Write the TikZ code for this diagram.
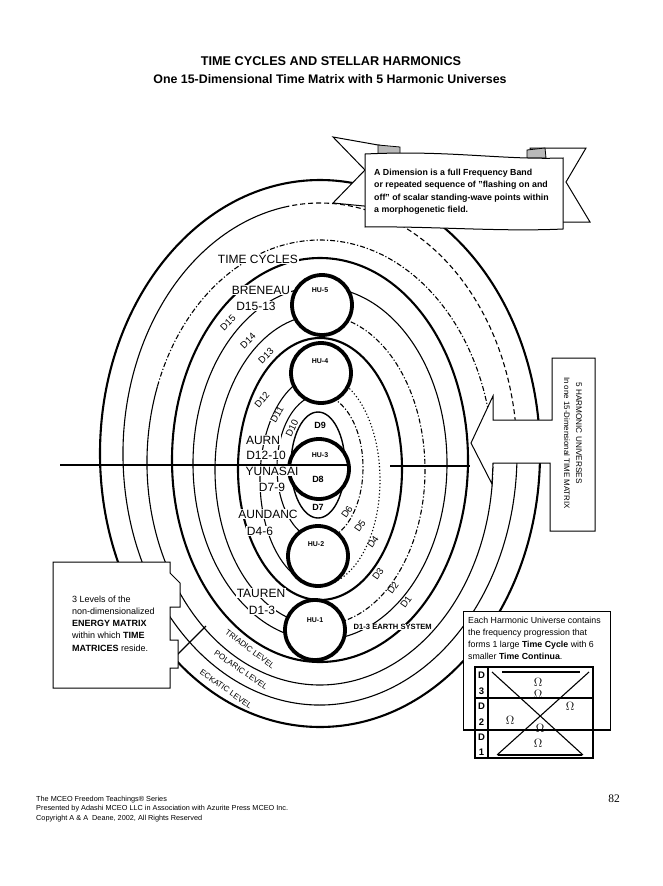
\documentclass[tikz,border=0pt]{standalone}
\usepackage{fontspec}
\setmainfont{Liberation Sans}
\newfontfamily\pagenumfont{Liberation Serif}
\begin{document}
\begin{tikzpicture}[x=1pt,y=-1pt,
  thk/.style={line width=2.1pt},
  thn/.style={line width=1.1pt},
  dashA/.style={dash pattern=on 5pt off 3pt},
  dashdot/.style={dash pattern=on 5pt off 2pt on 1.2pt off 2pt},
  dotty/.style={dash pattern=on 1.2pt off 2.2pt},
  hu/.style={circle, draw, line width=3.8pt, fill=white, minimum size=60pt, inner sep=0pt},
  lbl/.style={fill=white, inner sep=0.6pt, font=\fontsize{12}{12}\selectfont},
  dlab/.style={fill=white, inner sep=0pt, font=\fontsize{9.5}{9.5}\selectfont},
  hulab/.style={font=\bfseries\fontsize{7}{7}\selectfont, inner sep=0pt},
  dinner/.style={font=\bfseries\fontsize{9}{9}\selectfont, inner sep=0pt},
  band/.style={font=\fontsize{8}{8}\selectfont, inner sep=0pt},
  boxshape/.style={draw, line width=1pt, fill=white},
  omega/.style={font=\fontsize{12}{12}\selectfont, inner sep=0pt},
]
\useasboundingbox (0,0) rectangle (662,886);
\fill[white] (0,0) rectangle (662,886);

% ---------- ellipses ----------
\draw[thk] (320,453.5) ellipse [x radius=220pt, y radius=273.5pt];
\begin{scope}[shift={(320,454)}]
  \draw[thn] (100:197pt and 251pt) arc[start angle=100, end angle=360, x radius=197pt, y radius=251pt];
  \draw[thn,dashA] (0:197pt and 251pt) arc[start angle=0, end angle=100, x radius=197pt, y radius=251pt];
\end{scope}
\begin{scope}[shift={(320,462.5)}]
  \draw[thn] (160:173pt and 222.5pt) arc[start angle=160, end angle=355, x radius=173pt, y radius=222.5pt];
  \draw[thn,dashdot] (-5:173pt and 222.5pt) arc[start angle=-5, end angle=160, x radius=173pt, y radius=222.5pt];
\end{scope}
\draw[thk] (320,460) ellipse [x radius=148pt, y radius=202pt];
\draw[thn] (320,463.5) ellipse [x radius=127pt, y radius=176.5pt];
\begin{scope}[shift={(320,470)}]
  \draw[thn] (80:105pt and 155pt) arc[start angle=80, end angle=280, x radius=105pt, y radius=155pt];
  \draw[thn,dashdot] (-80:105pt and 155pt) arc[start angle=-80, end angle=80, x radius=105pt, y radius=155pt];
\end{scope}
\draw[thk] (320,469) ellipse [x radius=82pt, y radius=131pt];
\begin{scope}[shift={(320,480)}]
  \draw[thn] (85:60pt and 105pt) arc[start angle=85, end angle=275, x radius=60pt, y radius=105pt];
  \draw[thn,dotty] (-85:60pt and 105pt) arc[start angle=-85, end angle=85, x radius=60pt, y radius=105pt];
\end{scope}
\begin{scope}[shift={(320,467.5)}]
  \draw[thn] (85:43pt and 72.5pt) arc[start angle=85, end angle=275, x radius=43pt, y radius=72.5pt];
  \draw[thn,dashdot] (-85:43pt and 72.5pt) arc[start angle=-85, end angle=85, x radius=43pt, y radius=72.5pt];
\end{scope}
\draw[line width=1.4pt] (318,465) ellipse [x radius=27pt, y radius=53pt];

% band cap
\coordinate (capA) at (206,626);
\coordinate (capB) at (176,656);
\draw[thn] (capA) -- (capB);

% ---------- left labels ----------
\node[lbl] (tc) at (258,259) {TIME CYCLES};
\node[lbl] (bren) at (261,290) {BRENEAU};
\node[lbl] (d1513) at (256,306) {D15-13};
\node[lbl] (aurn) at (263,440) {AURN};
\node[lbl] (d1210) at (266,455) {D12-10};
\node[lbl] (d79) at (272,487) {D7-9};
\node[lbl] (aund) at (268,514) {AUNDANC};
\node[lbl] (d46) at (260,531) {D4-6};
\node[lbl] (taur) at (261,593) {TAUREN};
\node[lbl] (d13) at (262,610) {D1-3};

\node[dlab,rotate=45] (lD15) at (228,323) {D15};
\node[dlab,rotate=45] (lD14) at (248,341) {D14};
\node[dlab,rotate=45] (lD13) at (266,356) {D13};
\node[dlab,rotate=50] (lD12) at (262,400) {D12};
\node[dlab,rotate=60] (lD11) at (277,415) {D11};
\node[dlab,rotate=64] (lD10) at (292,428) {D10};
\node[dlab,rotate=55] (lD6) at (347,512) {D6};
\node[dlab,rotate=55] (lD5) at (360,526) {D5};
\node[dlab,rotate=55] (lD4) at (373,542) {D4};
\node[dlab,rotate=55] (lD3) at (378,574) {D3};
\node[dlab,rotate=55] (lD2) at (393,588) {D2};
\node[dlab,rotate=55] (lD1) at (406,602) {D1};

% ---------- HU circles ----------
\node[hu] (hu5) at (322,305) {};
\node[hu] (hu4) at (321,373) {};
\node[hu] (hu3) at (319,469) {};
\node[hu] (hu2) at (318,556) {};
\node[hu] (hu1) at (315,630) {};
\node[hulab] (thu5) at (320,290) {HU-5};
\node[hulab] (thu4) at (320,361) {HU-4};
\node[hulab] (thu3) at (320,455) {HU-3};
\node[hulab] (thu2) at (316,544) {HU-2};
\node[hulab] (thu1) at (315,620) {HU-1};
\node[dinner] (td9) at (320,425) {D9};
\node[dinner] (td8) at (318,479) {D8};
\node[dinner] (td7) at (318,507) {D7};

\node[lbl] (yun) at (272,471) {YUNASAI};

% horizontal axis
\coordinate (hlA) at (60,465);
\coordinate (hlB) at (348,465);
\coordinate (hlC) at (390,466);
\coordinate (hlD) at (470,466);
\draw[thn] (hlA) -- (hlB);
\draw[thn] (hlC) -- (hlD);

\node[font=\bfseries\fontsize{7.6}{7.6}\selectfont, anchor=west, fill=white, inner sep=0.5pt] (earth) at (353,627) {D1-3 EARTH SYSTEM};

\node[band,rotate=-37] (tri) at (250,649) {TRIADIC LEVEL};
\node[band,rotate=-34] (pol) at (241,670) {POLARIC LEVEL};
\node[band,rotate=-35] (eck) at (226,689) {ECKATIC LEVEL};

% ---------- banner ----------
\draw[boxshape] (333,137) -- (395,148) -- (395,209) -- (333,203) -- (365,170) -- cycle;
\draw[boxshape] (530,148) -- (586,148) -- (566,182) -- (590,222) -- (530,222) -- cycle;
\draw[line width=0.8pt, fill=gray!55] (378,145) -- (400,147) -- (400,156) -- (378,155) -- cycle;
\draw[line width=0.8pt, fill=gray!55] (527,150) -- (545,148) -- (546,158) -- (527,158) -- cycle;
\draw[boxshape] (365,154) .. controls (450,150) and (500,160) .. (563,158) -- (563,229) .. controls (500,232) and (430,226) .. (365,227) -- cycle;
\node[anchor=north west, align=left, inner sep=0pt, font=\bfseries\fontsize{8.8}{12.4}\selectfont] (bantext) at (374,169)
  {A Dimension is a full Frequency Band\\or repeated sequence of "flashing on and\\off" of scalar standing-wave points within\\a morphogenetic field.};

% ---------- 5 HU callout ----------
\draw[boxshape] (552,358) -- (595,358) -- (595,531) -- (550,531) -- (550,463) -- (493,463) -- (492,484) -- (471,443) -- (493,396) -- (493,420) -- (552,420) -- cycle;
\node[rotate=-90, inner sep=0pt, font=\fontsize{8.2}{8.2}\selectfont] (hu5a) at (579,433) {5 HARMONIC UNIVERSES};
\node[rotate=-90, inner sep=0pt, font=\fontsize{7.9}{7.9}\selectfont] (hu5b) at (567,443) {In one 15-Dimensional TIME MATRIX};

% ---------- left box ----------
\draw[boxshape] (53,562) -- (170,562) -- (170,573) -- (180,583) -- (180,607) -- (170,607) -- (170,640) -- (178,640) -- (178,668) -- (170,668) -- (170,688) -- (53,688) -- cycle;
\node[anchor=north west, align=left, inner sep=0pt, font=\fontsize{9}{12.2}\selectfont] (lefttext) at (72,595.5)
  {3 Levels of the\\non-dimensionalized\\\textbf{ENERGY MATRIX}\\within which \textbf{TIME}\\\textbf{MATRICES} reside.};

% ---------- bottom right box ----------
\draw[boxshape] (463,611) rectangle (610,730);
\node[anchor=north west, align=left, inner sep=0pt, font=\fontsize{8.8}{12.3}\selectfont] (rtext) at (468,616.5)
  {Each Harmonic Universe contains\\the frequency progression that\\forms 1 large \textbf{Time Cycle} with 6\\smaller \textbf{Time Continua}.};
\draw[thn, fill=white] (475,667) rectangle (593,758);
\draw[thn] (488,667) -- (488,758);
\draw[thn] (475,698) -- (593,698);
\draw[thn] (463,730) -- (610,730);
\draw[thn] (502,672) -- (580,672);
\draw[thn] (498,755) -- (582,755);
\draw[thn] (492,672) -- (583,755);
\draw[thn] (589,672) -- (497,755);
\foreach \t/\yy in {D/675,3/691,D/706,2/722,D/737,1/752}
  \node[font=\bfseries\fontsize{9.5}{9.5}\selectfont, inner sep=0pt] at (481.5,\yy) {\t};
\node[omega] (om1) at (538,682) {$\Omega$};
\node[omega] (om2) at (538,694) {$\Omega$};
\node[omega] (om3) at (570,706) {$\Omega$};
\node[omega] (om4) at (510,720) {$\Omega$};
\node[omega] (om5) at (540,728) {$\Omega$};
\node[omega] (om6) at (538,743) {$\Omega$};

% ---------- titles ----------
\node[font=\bfseries\fontsize{12.7}{12.7}\selectfont, inner sep=0pt] (title1) at (331,61) {TIME CYCLES AND STELLAR HARMONICS};
\node[font=\bfseries\fontsize{12.4}{12.4}\selectfont, inner sep=0pt] (title2) at (330,79) {One 15-Dimensional Time Matrix with 5 Harmonic Universes};

% ---------- footer ----------
\node[anchor=north west, align=left, inner sep=0pt, font=\fontsize{7.3}{9.4}\selectfont] (foot) at (36,796)
  {The MCEO Freedom Teachings® Series\\Presented by Adashi MCEO LLC in Association with Azurite Press MCEO Inc.\\Copyright A \& A\ \ Deane, 2002, All Rights Reserved};
\node[font=\pagenumfont\fontsize{11.5}{11.5}\selectfont, inner sep=0pt] (pnum) at (614,799) {82};
\end{tikzpicture}
\end{document}
